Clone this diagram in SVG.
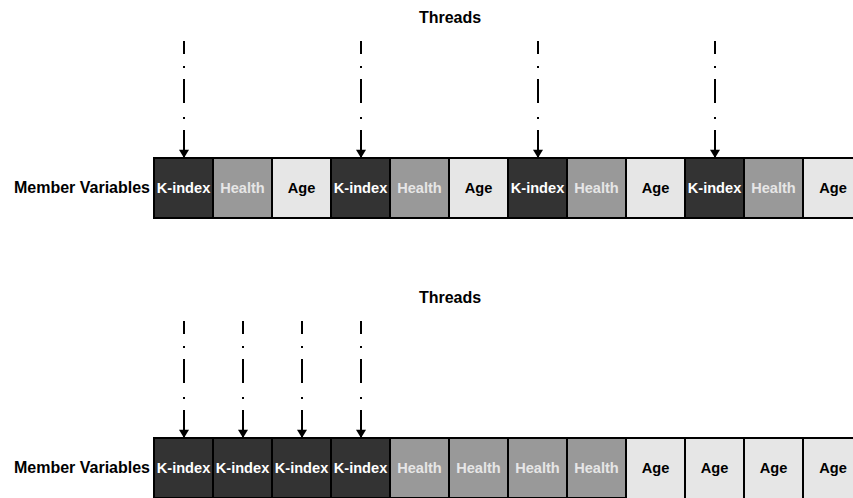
<svg xmlns="http://www.w3.org/2000/svg" width="853" height="498" viewBox="0 0 853 498">
  <defs>
    <style>
      .title { font-family: "Liberation Sans", Arial, sans-serif; font-weight: bold; font-size: 16px; fill: #000; text-anchor: middle; }
      .label { font-family: "Liberation Sans", Arial, sans-serif; font-weight: bold; font-size: 16px; fill: #000; text-anchor: end; }
      .cell text { font-family: "Liberation Sans", Arial, sans-serif; font-weight: bold; font-size: 14.6px; text-anchor: middle; }
      .cell rect { stroke: #000; stroke-width: 2; }
      .k rect { fill: #333333; } .k text { fill: #ffffff; }
      .h rect { fill: #999999; } .h text { fill: #e6e6e6; }
      .a rect { fill: #e6e6e6; } .a text { fill: #000000; }
      .thread line { stroke: #000; stroke-width: 2; }
    </style>
    <marker id="head" viewBox="0 0 10 12" refX="10" refY="6" markerWidth="12" markerHeight="10" markerUnits="userSpaceOnUse" orient="auto">
      <path d="M0,0 L10,6 L0,12 Z" fill="#000"/>
    </marker>
    <!-- one dash-dot thread line ending in an arrowhead at y = 0 (cell top) -->
    <g id="threadArrow" class="thread">
      <line x1="0" y1="-117" x2="0" y2="-104"/>
      <line x1="0" y1="-92" x2="0" y2="-90"/>
      <line x1="0" y1="-79" x2="0" y2="-55"/>
      <line x1="0" y1="-41" x2="0" y2="-39"/>
      <line x1="0" y1="-28" x2="0" y2="0" marker-end="url(#head)"/>
    </g>
  </defs>

  <!-- Array of structures layout -->
  <text class="title" x="450" y="23">Threads</text>
  <text class="label" x="150" y="193">Member Variables</text>

  <g id="aos-cells">
    <g id="aos-k1" class="cell k"><rect x="154" y="158" width="59" height="60"/><text x="183.5" y="193">K-index</text></g>
    <g id="aos-h1" class="cell h"><rect x="213" y="158" width="59" height="60"/><text x="242.5" y="193">Health</text></g>
    <g id="aos-a1" class="cell a"><rect x="272" y="158" width="59" height="60"/><text x="301.5" y="193">Age</text></g>
    <g id="aos-k2" class="cell k"><rect x="331" y="158" width="59" height="60"/><text x="360.5" y="193">K-index</text></g>
    <g id="aos-h2" class="cell h"><rect x="390" y="158" width="59" height="60"/><text x="419.5" y="193">Health</text></g>
    <g id="aos-a2" class="cell a"><rect x="449" y="158" width="59" height="60"/><text x="478.5" y="193">Age</text></g>
    <g id="aos-k3" class="cell k"><rect x="508" y="158" width="59" height="60"/><text x="537.5" y="193">K-index</text></g>
    <g id="aos-h3" class="cell h"><rect x="567" y="158" width="59" height="60"/><text x="596.5" y="193">Health</text></g>
    <g id="aos-a3" class="cell a"><rect x="626" y="158" width="59" height="60"/><text x="655.5" y="193">Age</text></g>
    <g id="aos-k4" class="cell k"><rect x="685" y="158" width="59" height="60"/><text x="714.5" y="193">K-index</text></g>
    <g id="aos-h4" class="cell h"><rect x="744" y="158" width="59" height="60"/><text x="773.5" y="193">Health</text></g>
    <g id="aos-a4" class="cell a"><rect x="803" y="158" width="59" height="60"/><text x="833" y="193">Age</text></g>
  </g>

  <g id="aos-threads">
    <use href="#threadArrow" x="184" y="158"/>
    <use href="#threadArrow" x="361" y="158"/>
    <use href="#threadArrow" x="538" y="158"/>
    <use href="#threadArrow" x="715" y="158"/>
  </g>

  <!-- Structure of arrays layout -->
  <text class="title" x="450" y="303">Threads</text>
  <text class="label" x="150" y="473">Member Variables</text>

  <g id="soa-cells">
    <g id="soa-k1" class="cell k"><rect x="154" y="438" width="59" height="60"/><text x="183.5" y="473">K-index</text></g>
    <g id="soa-k2" class="cell k"><rect x="213" y="438" width="59" height="60"/><text x="242.5" y="473">K-index</text></g>
    <g id="soa-k3" class="cell k"><rect x="272" y="438" width="59" height="60"/><text x="301.5" y="473">K-index</text></g>
    <g id="soa-k4" class="cell k"><rect x="331" y="438" width="59" height="60"/><text x="360.5" y="473">K-index</text></g>
    <g id="soa-h1" class="cell h"><rect x="390" y="438" width="59" height="60"/><text x="419.5" y="473">Health</text></g>
    <g id="soa-h2" class="cell h"><rect x="449" y="438" width="59" height="60"/><text x="478.5" y="473">Health</text></g>
    <g id="soa-h3" class="cell h"><rect x="508" y="438" width="59" height="60"/><text x="537.5" y="473">Health</text></g>
    <g id="soa-h4" class="cell h"><rect x="567" y="438" width="59" height="60"/><text x="596.5" y="473">Health</text></g>
    <g id="soa-a1" class="cell a"><rect x="626" y="438" width="59" height="62"/><text x="655.5" y="473">Age</text></g>
    <g id="soa-a2" class="cell a"><rect x="685" y="438" width="59" height="62"/><text x="714.5" y="473">Age</text></g>
    <g id="soa-a3" class="cell a"><rect x="744" y="438" width="59" height="62"/><text x="773.5" y="473">Age</text></g>
    <g id="soa-a4" class="cell a"><rect x="803" y="438" width="59" height="62"/><text x="833" y="473">Age</text></g>
  </g>

  <g id="soa-threads">
    <use href="#threadArrow" x="184" y="438"/>
    <use href="#threadArrow" x="243" y="438"/>
    <use href="#threadArrow" x="302" y="438"/>
    <use href="#threadArrow" x="361" y="438"/>
  </g>
</svg>
